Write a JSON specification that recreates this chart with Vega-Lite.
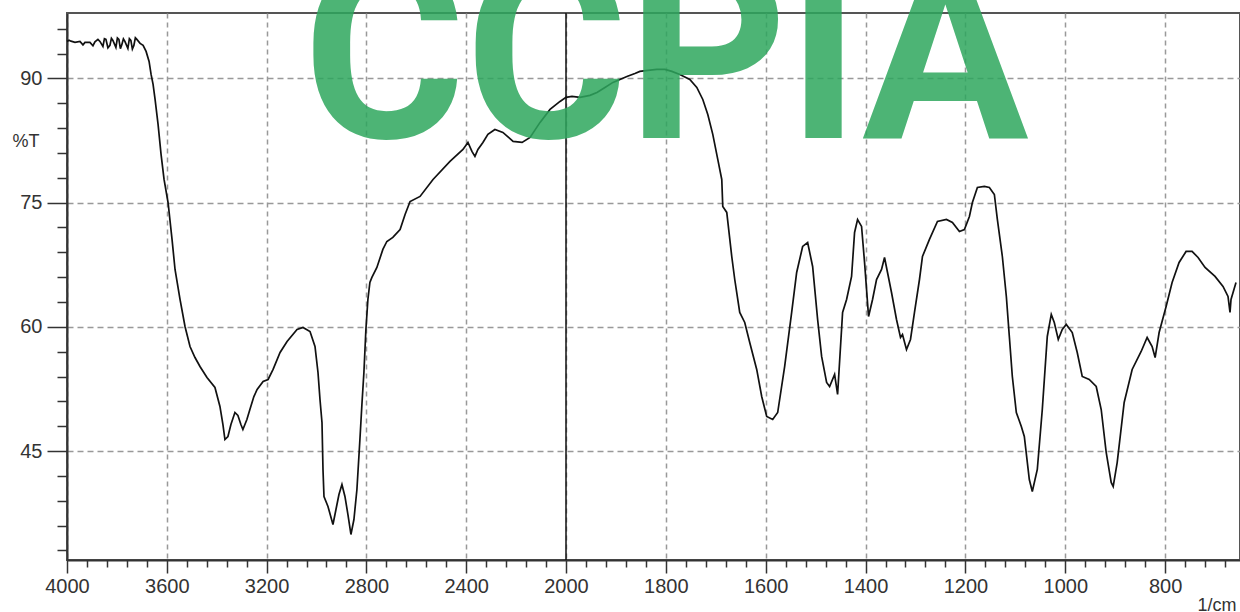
{
  "$schema": "https://vega.github.io/schema/vega-lite/v6.json",
  "width": 1173,
  "height": 547,
  "autosize": {"type": "none"},
  "padding": {"left": 67, "top": 13, "right": 0, "bottom": 52},
  "background": "white",
  "view": {"stroke": "#555555", "strokeWidth": 2},
  "config": {
    "font": "Liberation Sans",
    "axis": {"labelFont": "Liberation Sans", "titleFont": "Liberation Sans", "labelColor": "#333333", "titleColor": "#333333", "tickColor": "#333333", "domainColor": "#333333"}
  },
  "datasets": {
    "spectrum": [
      {"wn":4000,"t":94.47},{"wn":3992,"t":94.62},{"wn":3984,"t":94.50},{"wn":3968,"t":94.35},{"wn":3948,"t":94.47},{"wn":3936,"t":94.05},{"wn":3928,"t":94.35},{"wn":3908,"t":94.35},{"wn":3896,"t":93.95},{"wn":3888,"t":94.41},{"wn":3876,"t":94.72},{"wn":3868,"t":94.47},{"wn":3856,"t":93.86},{"wn":3850,"t":94.80},{"wn":3844,"t":94.71},{"wn":3836,"t":93.70},{"wn":3828,"t":93.99},{"wn":3822,"t":94.85},{"wn":3816,"t":94.59},{"wn":3804,"t":93.74},{"wn":3798,"t":94.88},{"wn":3792,"t":94.71},{"wn":3786,"t":93.60},{"wn":3780,"t":94.11},{"wn":3774,"t":94.78},{"wn":3768,"t":94.47},{"wn":3756,"t":93.62},{"wn":3750,"t":94.80},{"wn":3744,"t":94.59},{"wn":3738,"t":93.55},{"wn":3732,"t":93.99},{"wn":3726,"t":94.90},{"wn":3720,"t":94.71},{"wn":3707,"t":94.23},{"wn":3695,"t":93.99},{"wn":3683,"t":93.26},{"wn":3671,"t":92.05},{"wn":3663,"t":90.48},{"wn":3655,"t":89.28},{"wn":3647,"t":87.46},{"wn":3635,"t":84.44},{"wn":3623,"t":80.82},{"wn":3611,"t":77.80},{"wn":3595,"t":75.02},{"wn":3579,"t":70.56},{"wn":3567,"t":66.93},{"wn":3547,"t":63.31},{"wn":3527,"t":60.05},{"wn":3507,"t":57.63},{"wn":3487,"t":56.30},{"wn":3467,"t":55.22},{"wn":3439,"t":53.89},{"wn":3407,"t":52.68},{"wn":3387,"t":50.39},{"wn":3375,"t":48.21},{"wn":3367,"t":46.40},{"wn":3355,"t":46.76},{"wn":3343,"t":48.21},{"wn":3327,"t":49.66},{"wn":3315,"t":49.30},{"wn":3303,"t":48.21},{"wn":3295,"t":47.61},{"wn":3279,"t":48.82},{"wn":3267,"t":50.02},{"wn":3251,"t":51.59},{"wn":3238,"t":52.44},{"wn":3214,"t":53.41},{"wn":3194,"t":53.65},{"wn":3174,"t":54.86},{"wn":3146,"t":56.91},{"wn":3118,"t":58.24},{"wn":3078,"t":59.69},{"wn":3054,"t":59.93},{"wn":3026,"t":59.44},{"wn":3006,"t":57.63},{"wn":2994,"t":54.49},{"wn":2986,"t":51.23},{"wn":2978,"t":48.45},{"wn":2974,"t":42.78},{"wn":2970,"t":39.52},{"wn":2954,"t":38.31},{"wn":2934,"t":36.14},{"wn":2922,"t":37.95},{"wn":2910,"t":39.76},{"wn":2898,"t":40.97},{"wn":2886,"t":39.52},{"wn":2874,"t":37.34},{"wn":2862,"t":34.93},{"wn":2850,"t":36.74},{"wn":2838,"t":40.36},{"wn":2826,"t":46.40},{"wn":2818,"t":50.63},{"wn":2810,"t":54.49},{"wn":2802,"t":59.69},{"wn":2794,"t":63.31},{"wn":2786,"t":65.36},{"wn":2778,"t":65.97},{"wn":2758,"t":67.17},{"wn":2734,"t":69.35},{"wn":2718,"t":70.31},{"wn":2694,"t":70.80},{"wn":2665,"t":71.76},{"wn":2645,"t":73.57},{"wn":2625,"t":75.14},{"wn":2585,"t":75.75},{"wn":2533,"t":77.80},{"wn":2465,"t":79.98},{"wn":2413,"t":81.43},{"wn":2393,"t":82.27},{"wn":2377,"t":81.18},{"wn":2365,"t":80.58},{"wn":2353,"t":81.43},{"wn":2333,"t":82.27},{"wn":2313,"t":83.24},{"wn":2285,"t":83.84},{"wn":2253,"t":83.48},{"wn":2212,"t":82.39},{"wn":2176,"t":82.27},{"wn":2144,"t":82.87},{"wn":2104,"t":84.69},{"wn":2064,"t":86.26},{"wn":2024,"t":87.22},{"wn":2000,"t":87.71},
      {"wn":1988,"t":87.83},{"wn":1972,"t":87.71},{"wn":1952,"t":87.95},{"wn":1938,"t":88.31},{"wn":1922,"t":88.91},{"wn":1906,"t":89.52},{"wn":1892,"t":89.88},{"wn":1878,"t":90.24},{"wn":1862,"t":90.60},{"wn":1852,"t":90.85},{"wn":1836,"t":90.97},{"wn":1818,"t":91.09},{"wn":1802,"t":91.09},{"wn":1788,"t":90.85},{"wn":1772,"t":90.48},{"wn":1752,"t":89.88},{"wn":1738,"t":88.91},{"wn":1726,"t":87.46},{"wn":1716,"t":85.65},{"wn":1706,"t":83.24},{"wn":1696,"t":80.22},{"wn":1688,"t":77.80},{"wn":1686,"t":74.54},{"wn":1678,"t":73.82},{"wn":1668,"t":68.50},{"wn":1662,"t":65.72},{"wn":1652,"t":61.74},{"wn":1642,"t":60.53},{"wn":1632,"t":58.12},{"wn":1618,"t":54.86},{"wn":1608,"t":51.59},{"wn":1598,"t":49.18},{"wn":1586,"t":48.82},{"wn":1576,"t":49.66},{"wn":1562,"t":55.22},{"wn":1548,"t":61.74},{"wn":1538,"t":66.57},{"wn":1526,"t":69.71},{"wn":1516,"t":70.19},{"wn":1506,"t":67.29},{"wn":1496,"t":60.89},{"wn":1488,"t":56.43},{"wn":1478,"t":53.29},{"wn":1472,"t":52.80},{"wn":1462,"t":54.25},{"wn":1456,"t":51.84},{"wn":1446,"t":61.74},{"wn":1438,"t":63.31},{"wn":1428,"t":66.09},{"wn":1422,"t":71.40},{"wn":1416,"t":72.97},{"wn":1408,"t":72.13},{"wn":1402,"t":67.78},{"wn":1394,"t":61.26},{"wn":1386,"t":63.31},{"wn":1378,"t":65.72},{"wn":1368,"t":66.93},{"wn":1362,"t":68.38},{"wn":1356,"t":66.57},{"wn":1348,"t":64.15},{"wn":1338,"t":60.89},{"wn":1330,"t":58.72},{"wn":1326,"t":59.08},{"wn":1318,"t":57.27},{"wn":1310,"t":58.48},{"wn":1302,"t":61.74},{"wn":1292,"t":65.72},{"wn":1286,"t":68.50},{"wn":1272,"t":70.56},{"wn":1256,"t":72.73},{"wn":1238,"t":72.97},{"wn":1226,"t":72.61},{"wn":1212,"t":71.52},{"wn":1202,"t":71.76},{"wn":1192,"t":73.33},{"wn":1186,"t":75.02},{"wn":1176,"t":76.84},{"wn":1162,"t":76.96},{"wn":1152,"t":76.84},{"wn":1142,"t":75.99},{"wn":1136,"t":72.97},{"wn":1126,"t":68.50},{"wn":1118,"t":63.67},{"wn":1112,"t":58.84},{"wn":1106,"t":54.01},{"wn":1098,"t":49.66},{"wn":1088,"t":47.97},{"wn":1082,"t":46.76},{"wn":1072,"t":41.57},{"wn":1066,"t":40.12},{"wn":1056,"t":42.78},{"wn":1046,"t":50.02},{"wn":1036,"t":58.84},{"wn":1028,"t":61.50},{"wn":1022,"t":60.53},{"wn":1014,"t":58.48},{"wn":1006,"t":59.69},{"wn":998,"t":60.29},{"wn":986,"t":59.32},{"wn":976,"t":56.91},{"wn":966,"t":54.01},{"wn":952,"t":53.65},{"wn":938,"t":52.80},{"wn":928,"t":50.02},{"wn":918,"t":44.83},{"wn":908,"t":41.21},{"wn":904,"t":40.72},{"wn":896,"t":43.62},{"wn":882,"t":50.87},{"wn":866,"t":54.86},{"wn":848,"t":57.03},{"wn":836,"t":58.72},{"wn":826,"t":57.63},{"wn":820,"t":56.30},{"wn":812,"t":59.32},{"wn":798,"t":62.46},{"wn":786,"t":65.36},{"wn":772,"t":67.78},{"wn":758,"t":69.11},{"wn":746,"t":69.11},{"wn":734,"t":68.38},{"wn":720,"t":67.17},{"wn":700,"t":66.09},{"wn":684,"t":64.88},{"wn":674,"t":63.67},{"wn":670,"t":61.74},{"wn":668,"t":63.31},{"wn":658,"t":65.36}
    ]
  },
  "layer": [
    {
      "data": {"name": "spectrum"},
      "mark": {"type": "line", "color": "#111111", "strokeWidth": 1.7, "interpolate": "linear"},
      "encoding": {
        "x": {
          "field": "wn", "type": "quantitative",
          "scale": {"domain": [4000, 2000, 650], "range": [0, 499, 1173], "zero": false, "nice": false},
          "axis": {
            "orient": "bottom",
            "values": [4000, 3600, 3200, 2800, 2400, 2000, 1800, 1600, 1400, 1200, 1000, 800],
            "format": "d",
            "tickSize": 13, "tickWidth": 1.5,
            "labelFontSize": 20, "labelPadding": 3, "labelFlush": false, "labelOverlap": false,
            "domainWidth": 2,
            "grid": true, "gridColor": "#999999", "gridDash": [5, 4], "gridWidth": 1.5,
            "title": "1/cm", "titleFontSize": 18, "titleFontWeight": "normal",
            "titleX": 1130, "titleY": 36, "titleAlign": "left", "titleBaseline": "top"
          }
        },
        "y": {
          "field": "t", "type": "quantitative",
          "scale": {"domain": [31.85, 97.9], "zero": false, "nice": false},
          "axis": {
            "orient": "left",
            "values": [90, 75, 60, 45],
            "tickSize": 20, "tickWidth": 1.5,
            "labelFontSize": 20, "labelPadding": 5, "labelFlush": false,
            "domainWidth": 2,
            "grid": true, "gridColor": "#999999", "gridDash": [6, 4], "gridWidth": 1.5,
            "title": "%T", "titleFontSize": 18, "titleFontWeight": "normal", "titleAngle": 0,
            "titleX": -55, "titleY": 128, "titleAlign": "left", "titleBaseline": "middle"
          }
        }
      }
    },
    {
      "data": {"values": [{"wn": 2000}]},
      "mark": {"type": "rule", "color": "#111111", "strokeWidth": 1.5},
      "encoding": {
        "x": {"field": "wn", "type": "quantitative", "axis": null}
      }
    },
    {
      "data": {"values": [{"wn": 1800, "t": 82.8, "label": "CCPIA"}]},
      "mark": {"type": "text", "font": "Roboto", "fontWeight": "bold", "fontSize": 248, "align": "center", "baseline": "alphabetic", "color": "#2EA75E", "opacity": 0.85},
      "encoding": {
        "x": {
          "field": "wn", "type": "quantitative",
          "axis": {
            "orient": "bottom",
            "values": [3920,3840,3760,3680,3520,3440,3360,3280,3120,3040,2960,2880,2720,2640,2560,2480,2320,2240,2160,2080,1960,1920,1880,1840,1760,1720,1680,1640,1560,1520,1480,1440,1360,1320,1280,1240,1160,1120,1080,1040,960,920,880,840,760,720,680],
            "tickSize": 7, "tickWidth": 1.5, "labels": false, "domain": false, "grid": false, "title": null
          }
        },
        "y": {
          "field": "t", "type": "quantitative",
          "axis": {
            "orient": "left",
            "values": [96,93,87,84,81,78,72,69,66,63,57,54,51,48,42,39,36,33],
            "tickSize": 10, "tickWidth": 1.5, "labels": false, "domain": false, "grid": false, "title": null
          }
        },
        "text": {"field": "label", "type": "nominal"}
      }
    }
  ],
  "resolve": {"axis": {"x": "independent", "y": "independent"}}
}
